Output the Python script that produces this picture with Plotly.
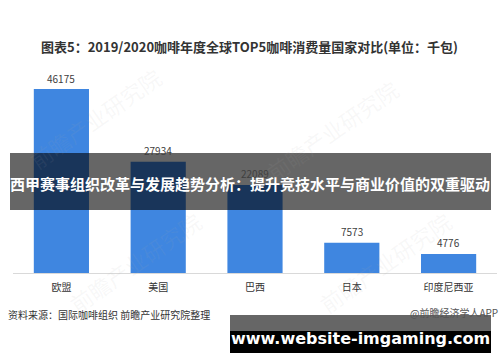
import plotly.graph_objects as go

categories = ["欧盟", "美国", "巴西", "日本", "印度尼西亚"]
values = [46175, 27934, 22089, 7573, 4776]
title_text = "图表5：2019/2020咖啡年度全球TOP5咖啡消费量国家对比(单位：千包)"
banner_text = "西甲赛事组织改革与发展趋势分析：提升竞技水平与商业价值的双重驱动"
source_text = "资料来源：国际咖啡组织 前瞻产业研究院整理"
credit_text = "@前瞻经济学人APP"
site_text = "www.website-imgaming.com"
watermark_text = "前瞻产业研究院"

W, H = 500, 362
PL, PR, PT, PB = 13, 497, 80, 273  # plot area in pixels
FONT = "Noto Sans CJK SC"


def px(x):
    return x / W


def py(y):
    return 1 - y / H


fig = go.Figure()
fig.add_trace(go.Bar(
    x=categories, y=values, marker=dict(color="#3f86e0", line=dict(width=0)),
    width=0.57, hoverinfo="skip",
))

annotations = []
# faint watermarks
for wx, wy in [(95, 118), (332, 130), (135, 262), (385, 262)]:
    annotations.append(dict(x=px(wx), y=py(wy), xref="paper", yref="paper", text=watermark_text,
                            showarrow=False, textangle=-35, xanchor="center", yanchor="middle",
                            font=dict(family=FONT, size=22, color="rgba(170,170,170,0.09)")))

for c, v in zip(categories, values):
    annotations.append(dict(x=c, y=v, xref="x", yref="y", text=str(v), showarrow=False,
                            yshift=11, yanchor="middle",
                            font=dict(family=FONT, size=10, color="#404040")))

annotations += [
    dict(x=px(249), y=py(46), xref="paper", yref="paper", text="<b>" + title_text + "</b>",
         showarrow=False, xanchor="center", yanchor="middle",
         font=dict(family=FONT, size=13, color="#333333")),
    dict(x=px(250), y=py(183), xref="paper", yref="paper", text="<b>" + banner_text + "</b>",
         showarrow=False, xanchor="center", yanchor="middle",
         font=dict(family=FONT, size=15, color="#ffffff")),
    dict(x=px(6), y=py(314), xref="paper", yref="paper", text=source_text, showarrow=False,
         xanchor="left", yanchor="middle", font=dict(family=FONT, size=10, color="#333333")),
    dict(x=px(500), y=py(312), xref="paper", yref="paper", text=credit_text, showarrow=False,
         xanchor="right", yanchor="middle", font=dict(family=FONT, size=10, color="#555555")),
    dict(x=px(360), y=py(338), xref="paper", yref="paper", text="<b>" + site_text + "</b>",
         showarrow=False, xanchor="center", yanchor="middle",
         font=dict(family="DejaVu Sans", size=16, color="#ffffff")),
]

shapes = [
    dict(type="rect", xref="paper", yref="paper", x0=px(10), x1=px(491), y0=py(153), y1=py(210),
         fillcolor="rgba(0,0,0,0.6)", line=dict(width=0), layer="above"),
    dict(type="rect", xref="paper", yref="paper", x0=px(230), x1=px(491), y0=py(315), y1=py(331),
         fillcolor="rgba(0,0,0,0.6)", line=dict(width=0), layer="above"),
    dict(type="rect", xref="paper", yref="paper", x0=px(230), x1=px(491), y0=py(331), y1=py(353),
         fillcolor="#000000", line=dict(width=0), layer="above"),
]

fig.update_layout(
    width=W, height=H, autosize=False, margin=dict(l=0, r=0, t=0, b=0, pad=0),
    paper_bgcolor="white", plot_bgcolor="white", showlegend=False,
    annotations=annotations, shapes=shapes,
    xaxis=dict(domain=[px(PL), px(PR)], range=[-0.5, 4.5], showline=True, linecolor="#d9d9d9",
               linewidth=1, showgrid=False, ticks="outside", ticklen=5,
               tickcolor="rgba(0,0,0,0)", automargin=False,
               tickfont=dict(family=FONT, size=10, color="#333333"), fixedrange=True),
    yaxis=dict(domain=[py(PB), py(PT)], range=[0, 48434], visible=False, showgrid=False,
               zeroline=False, automargin=False, fixedrange=True),
    font=dict(family=FONT),
)

fig.write_html("out.html")
